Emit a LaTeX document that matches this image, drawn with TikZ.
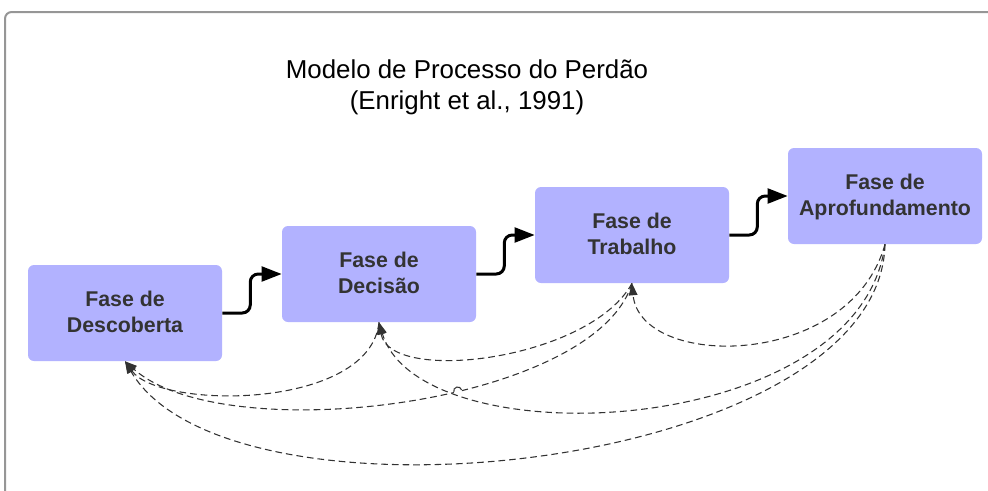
\documentclass[tikz,border=0pt]{standalone}
\usepackage{fontspec}
\setmainfont{Liberation Sans}
\usetikzlibrary{arrows.meta,intersections}
\definecolor{boxfill}{RGB}{178,178,255}
\definecolor{boxtext}{RGB}{51,51,51}
\definecolor{framegray}{RGB}{150,150,150}
\definecolor{dashcol}{RGB}{50,50,50}
\tikzset{
  phase/.style={draw=none, fill=boxfill, rounded corners=4.5pt,
    minimum width=145.5pt, minimum height=72pt, align=center, text depth=2pt,
    text=boxtext, font=\fontsize{16}{19.5}\selectfont\bfseries},
  forward/.style={line width=2.25pt, rounded corners=6pt,
    -{Triangle[length=15pt,width=11pt]}},
  feedback/.style={line width=0.8pt, draw=dashcol, dash pattern=on 5pt off 3pt,
    -{Triangle[length=9pt,width=6.5pt]}},
  titletext/.style={align=center, font=\fontsize{19.4}{23.3}\selectfont}
}
\begin{document}
\begin{tikzpicture}[x=0.75pt,y=-0.75pt]
\useasboundingbox (0,0) rectangle (988,490);
\draw[framegray, line width=1.5pt, rounded corners=5pt] (5,495) -- (5,12) -- (995,12);

\node[titletext] (title) at (467,87) {Modelo de Processo do Perdão\\(Enright et al., 1991)};

\node[phase] (desc) at (125,313) {Fase de\\Descoberta};
\node[phase] (deci) at (379,274) {Fase de\\Decisão};
\node[phase] (trab) at (632,235) {Fase de\\Trabalho};
\node[phase] (apro) at (885,196) {Fase de\\Aprofundamento};

\draw[forward] (desc.east) -- ++(28,0) |- (deci.west);
\draw[forward] (deci.east) -- ++(28,0) |- (trab.west);
\draw[forward] (trab.east) -- ++(28,0) |- (apro.west);

\draw[feedback] (deci.south) .. controls (370,410) and (160,410) .. (desc.south);
\draw[feedback, name path=trabdesc] (trab.south) .. controls (595,405) and (225,450) .. (desc.south);
\draw[feedback] (apro.south) .. controls (880,470) and (230,540) .. (desc.south);
\draw[feedback] (trab.south) .. controls (590,360) and (390,385) .. (deci.south);
\draw[feedback] (apro.south) .. controls (850,370) and (640,370) .. (trab.south);

\path[name path=aprodeci] (apro.south) .. controls (860,440) and (420,460) .. (deci.south);
\path[name intersections={of=trabdesc and aprodeci, by=hop}];
\fill[white] (hop) circle[radius=3.2pt];
\draw[dashcol, line width=0.8pt] ([shift={(195:3pt)}]hop) arc[start angle=195, end angle=15, radius=3pt];
\draw[feedback] (apro.south) .. controls (860,440) and (420,460) .. (deci.south);
\end{tikzpicture}
\end{document}
